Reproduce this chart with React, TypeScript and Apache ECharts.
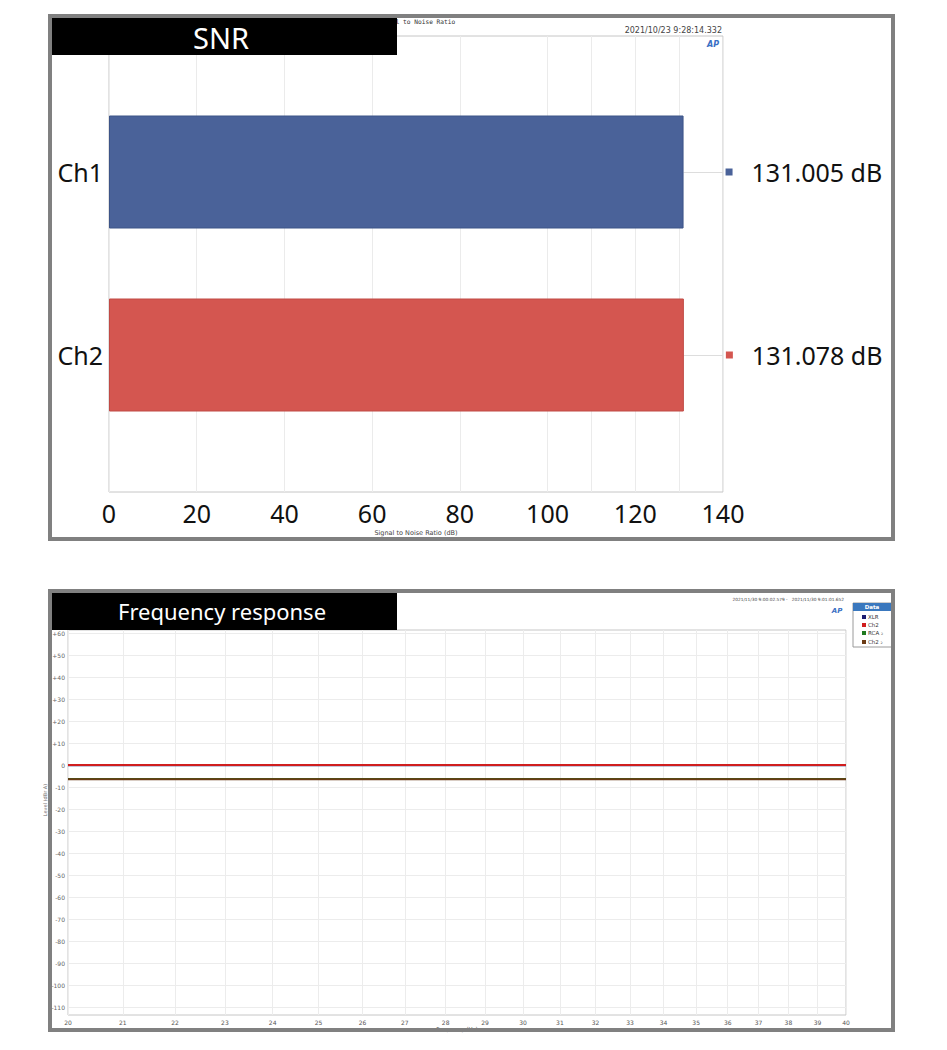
import React, { useEffect, useRef } from "react";
import * as echarts from "echarts";

// ---------- SNR panel data ----------
const snrCategories = ["Ch1", "Ch2"];
const snrValues = [131.005, 131.078];
const snrColors = ["#4a6299", "#d45650"];
const snrMax = 140;
const snrExtraGrid = [110, 130];

// ---------- Frequency response panel data ----------
const freqTicks = [20, 21, 22, 23, 24, 25, 26, 27, 28, 29, 30, 31, 32, 33, 34, 35, 36, 37, 38, 39, 40];
const levelTicks = [60, 50, 40, 30, 20, 10, 0, -10, -20, -30, -40, -50, -60, -70, -80, -90, -100, -110];
const freqPoints = [20, 25, 30, 35, 40];
const xlrLevel = [-0.05, -0.05, -0.05, -0.05, -0.05];
const ch2Level = [0.05, 0.05, 0.05, 0.05, 0.05];
const rcaLevel = [-6.3, -6.3, -6.3, -6.3, -6.3];
const ch2bLevel = [-6.4, -6.4, -6.4, -6.4, -6.4];
const seriesNames = ["XLR", "Ch2", "RCA \u2082", "Ch2 \u2082"];
const seriesColors = ["#1c1c70", "#d01e1e", "#1f7a1f", "#6a3a14"];
const seriesLevels = [xlrLevel, ch2Level, rcaLevel, ch2bLevel];

const SANS = "'Noto Sans', 'DejaVu Sans', sans-serif";
const SMALL = "'DejaVu Sans', sans-serif";

export default function App() {
  const ref = useRef<HTMLDivElement>(null);

  useEffect(() => {
    if (!ref.current) return;
    const chart = echarts.init(ref.current, undefined, { renderer: "svg" });

    const legendRows = [617, 625, 633, 642];

    const graphic: any[] = [
      // ---- panel 1 ----
      {
        type: "text", x: 377, y: 18, z: 40,
        style: { text: "Signal to Noise Ratio", fontSize: 6.2, fontFamily: "'DejaVu Sans Mono', monospace", fill: "#333" },
      },
      { type: "rect", z: 60, shape: { x: 51, y: 18, width: 346, height: 37 }, style: { fill: "#000" } },
      {
        type: "text", x: 221, y: 37, z: 61,
        style: { text: "SNR", fontSize: 29, fontFamily: SANS, fill: "#fff", align: "center", verticalAlign: "middle" },
      },
      {
        type: "text", x: 722, y: 30, z: 40,
        style: { text: "2021/10/23 9:28:14.332", fontSize: 8, fontFamily: SMALL, fill: "#444", align: "right", verticalAlign: "middle" },
      },
      {
        type: "text", x: 713, y: 44, z: 40,
        style: { text: "AP", fontSize: 8, fontStyle: "italic", fontWeight: "bold", fontFamily: SMALL, fill: "#3a6fc4", align: "center", verticalAlign: "middle" },
      },
      { type: "rect", z: 70, shape: { x: 50, y: 16, width: 843, height: 523 }, style: { fill: "none", stroke: "#808080", lineWidth: 4 } },

      // ---- panel 2 ----
      { type: "rect", z: 60, shape: { x: 52, y: 593, width: 345, height: 37 }, style: { fill: "#000" } },
      {
        type: "text", x: 222, y: 611, z: 61,
        style: { text: "Frequency response", fontSize: 22, fontFamily: SANS, fill: "#fff", align: "center", verticalAlign: "middle" },
      },
      {
        type: "text", x: 844, y: 599, z: 40,
        style: { text: "2021/11/30 9:00:02.579 -   2021/11/30 9:01:01.652", fontSize: 4.3, fontFamily: SMALL, fill: "#444", align: "right", verticalAlign: "middle" },
      },
      {
        type: "text", x: 837, y: 611, z: 40,
        style: { text: "AP", fontSize: 7, fontStyle: "italic", fontWeight: "bold", fontFamily: SMALL, fill: "#3a6fc4", align: "center", verticalAlign: "middle" },
      },
      {
        type: "text", x: 45, y: 800, z: 40, rotation: Math.PI / 2,
        style: { text: "Level (dBr A)", fontSize: 5, fontFamily: SMALL, fill: "#666", align: "center", verticalAlign: "middle" },
      },
      { type: "rect", z: 40, shape: { x: 853, y: 603, width: 39, height: 44 }, style: { fill: "#fff", stroke: "#9a9a9a", lineWidth: 1 } },
      { type: "rect", z: 41, shape: { x: 853, y: 603, width: 39, height: 8 }, style: { fill: "#3a78be" } },
      {
        type: "text", x: 872, y: 607, z: 42,
        style: { text: "Data", fontSize: 5.5, fontWeight: "bold", fontFamily: SMALL, fill: "#fff", align: "center", verticalAlign: "middle" },
      },
      ...seriesNames.flatMap((name, i) => [
        { type: "rect", z: 42, shape: { x: 862, y: legendRows[i] - 2, width: 4, height: 4 }, style: { fill: seriesColors[i] } },
        {
          type: "text", x: 868, y: legendRows[i], z: 42,
          style: { text: name, fontSize: 5.5, fontFamily: SMALL, fill: "#333", verticalAlign: "middle" },
        },
      ]),
      { type: "rect", z: 70, shape: { x: 50, y: 591, width: 843, height: 439 }, style: { fill: "none", stroke: "#808080", lineWidth: 4 } },
    ];

    const rich: any = {
      t: { fontSize: 25, fontFamily: SANS, color: "#111", padding: [0, 0, 0, 19] },
    };
    snrColors.forEach((c, i) => {
      rich["m" + i] = { width: 7, height: 7, backgroundColor: c };
    });

    const option: any = {
      animation: false,
      backgroundColor: "#fff",
      graphic,
      grid: [
        { left: 109, top: 36, width: 614, height: 456, show: true, borderColor: "#c6c6c6", borderWidth: 1, backgroundColor: "transparent" },
        { left: 109, top: 80.5, width: 614, height: 366 },
        { left: 68, top: 630, width: 778, height: 385, show: true, borderColor: "#c6c6c6", borderWidth: 1, backgroundColor: "transparent" },
      ],
      xAxis: [
        {
          gridIndex: 0, type: "value", min: 0, max: snrMax, interval: 20,
          axisLine: { show: false }, axisTick: { show: false },
          axisLabel: { fontSize: 25, fontFamily: SANS, color: "#111", margin: 8 },
          splitLine: { show: true, lineStyle: { color: "#ebebeb", width: 1 } },
          name: "Signal to Noise Ratio (dB)", nameLocation: "middle", nameGap: 37,
          nameTextStyle: { fontSize: 6.5, fontFamily: SMALL, color: "#444" },
        },
        { gridIndex: 1, type: "value", min: 0, max: snrMax, show: false },
        {
          gridIndex: 2, type: "log", logBase: 10, min: 20, max: 40,
          axisLine: { show: false },
          axisTick: { show: false, customValues: freqTicks },
          axisLabel: { customValues: freqTicks, fontSize: 6, fontFamily: SMALL, color: "#555", margin: 4 },
          splitLine: { show: true, lineStyle: { color: "#ececec", width: 1 } },
          name: "Frequency (Hz)", nameLocation: "middle", nameGap: 9,
          nameTextStyle: { fontSize: 5.5, fontFamily: SMALL, color: "#555" },
        },
      ],
      yAxis: [
        { gridIndex: 0, type: "value", min: 0, max: 1, show: false },
        {
          gridIndex: 1, type: "category", data: snrCategories, inverse: true,
          axisLine: { show: false }, axisTick: { show: false },
          axisLabel: { fontSize: 25, fontFamily: SANS, color: "#111", margin: 6 },
        },
        {
          gridIndex: 2, type: "value", min: -113.6, max: 61.4,
          axisLine: { show: false },
          axisTick: { show: false, customValues: levelTicks },
          axisLabel: {
            customValues: levelTicks, fontSize: 6, fontFamily: SMALL, color: "#666", margin: 3,
            formatter: (v: number) => (v > 0 ? "+" + v : String(v)),
          },
          splitLine: { show: true, lineStyle: { color: "#ececec", width: 1 } },
        },
      ],
      series: [
        {
          type: "line", xAxisIndex: 0, yAxisIndex: 0, data: [], silent: true, z: 0,
          markLine: {
            silent: true, symbol: "none", label: { show: false }, z: 0,
            lineStyle: { color: "#ebebeb", type: "solid", width: 1 },
            data: snrExtraGrid.map((v) => ({ xAxis: v })),
          },
        },
        {
          type: "bar", xAxisIndex: 1, yAxisIndex: 1, barWidth: 113, z: 5,
          data: snrValues.map((v, i) => ({
            value: v,
            itemStyle: { color: snrColors[i], borderColor: i === 0 ? "#3d5487" : "#c04a45", borderWidth: 1 },
          })),
          label: {
            show: true, position: "right", distance: 42,
            formatter: (p: any) => `{m${p.dataIndex}|}{t|${p.value.toFixed(3)} dB}`,
            rich,
          },
          markLine: {
            silent: true, symbol: "none", label: { show: false },
            lineStyle: { color: "#dddddd", type: "solid", width: 1 },
            data: snrValues.map((v, i) => [
              { coord: [v, snrCategories[i]] },
              { coord: [snrMax, snrCategories[i]] },
            ]),
          },
        },
        ...seriesNames.map((name, i) => ({
          name, type: "line", xAxisIndex: 2, yAxisIndex: 2, showSymbol: false,
          lineStyle: { color: seriesColors[i], width: 2 },
          itemStyle: { color: seriesColors[i] },
          data: freqPoints.map((f, j) => [f, seriesLevels[i][j]]),
        })),
      ],
    };

    chart.setOption(option);
    return () => chart.dispose();
  }, []);

  return (
    <div
      ref={ref}
      style={{ position: "absolute", left: 0, top: 0, width: 947, height: 1050, background: "#fff" }}
    />
  );
}
